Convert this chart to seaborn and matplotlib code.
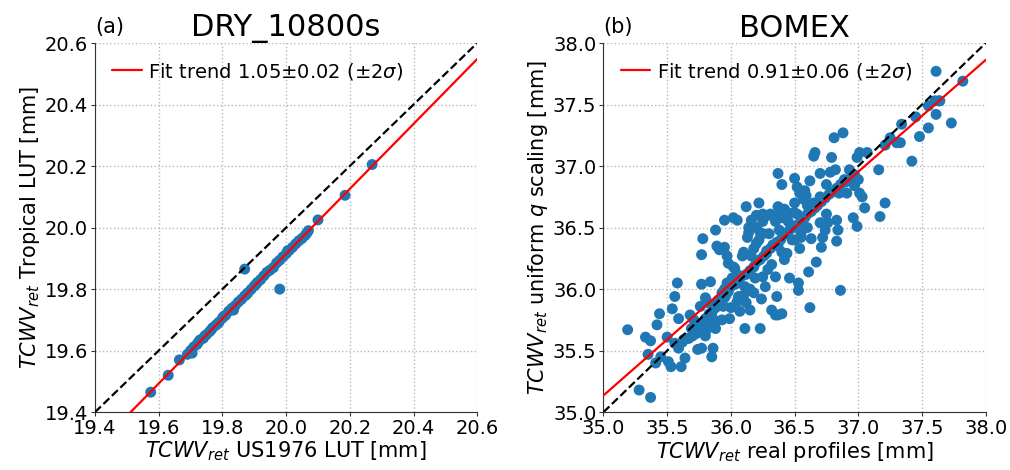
import numpy as np
import pandas as pd
import matplotlib
matplotlib.use('Agg')
import matplotlib.pyplot as plt
import seaborn as sns

# ---- panel (a): DRY_10800s, US1976 LUT vs Tropical LUT
dry_x = [19.575, 19.630, 19.665, 19.690, 19.700, 19.705, 19.710, 19.720, 19.725, 19.730,
         19.740, 19.745, 19.750, 19.760, 19.765, 19.770, 19.780, 19.785, 19.790, 19.800,
         19.805, 19.810, 19.820, 19.830, 19.835, 19.840, 19.850, 19.860, 19.870, 19.875,
         19.880, 19.890, 19.900, 19.905, 19.910, 19.920, 19.930, 19.940, 19.950, 19.960,
         19.970, 19.980, 19.990, 20.000, 20.005, 20.010, 20.020, 20.030, 20.040, 20.050,
         20.060, 20.065, 20.070, 20.100, 20.185, 20.270, 19.870, 19.980]
dry_y = [19.465, 19.520, 19.570, 19.588, 19.600, 19.592, 19.612, 19.620, 19.628, 19.635,
         19.640, 19.648, 19.652, 19.662, 19.668, 19.675, 19.683, 19.688, 19.693, 19.706,
         19.712, 19.715, 19.728, 19.738, 19.732, 19.746, 19.758, 19.767, 19.778, 19.782,
         19.788, 19.799, 19.810, 19.815, 19.822, 19.831, 19.843, 19.855, 19.862, 19.870,
         19.885, 19.894, 19.905, 19.915, 19.925, 19.926, 19.936, 19.947, 19.957, 19.965,
         19.975, 19.982, 19.990, 20.025, 20.105, 20.205, 19.865, 19.800]
dry_slope, dry_intercept = 1.055, -1.185

# ---- panel (b): BOMEX, real profiles vs uniform q scaling
bomex_x = [35.19, 35.28, 35.37, 35.33, 35.37, 35.35, 35.44, 35.42, 35.41, 35.45,
           35.50, 35.51, 35.53, 35.54, 35.56, 35.58, 35.59, 35.56, 35.59, 35.61,
           35.64, 35.63, 35.67, 35.69, 35.68, 35.71, 35.73, 35.74, 35.77, 35.76,
           35.77, 35.77, 35.78, 35.80, 35.79, 35.81, 35.84, 35.82, 35.85, 35.86,
           35.85, 35.88, 35.88, 35.88, 35.89, 35.91, 35.93, 35.90, 35.94, 35.95,
           35.95, 35.97, 35.98, 35.95, 35.99, 35.97, 36.01, 36.02, 36.03, 36.02,
           36.05, 36.06, 36.07, 36.09, 36.11, 36.12, 36.11, 36.12, 36.14, 36.14,
           36.15, 36.16, 36.16, 36.18, 36.19, 36.20, 36.22, 36.23, 36.23, 36.24,
           36.25, 36.27, 36.28, 36.29, 36.31, 36.32, 36.35, 36.36, 36.37, 36.37,
           36.37, 36.38, 36.38, 36.40, 36.40, 36.35, 36.37, 36.42, 36.44, 36.45,
           36.46, 36.48, 36.50, 36.52, 36.53, 36.53, 36.52, 36.54, 36.55, 36.54,
           36.57, 36.59, 36.61, 36.62, 36.63, 36.65, 36.66, 36.67, 36.70, 36.70,
           36.71, 36.72, 36.74, 36.75, 36.76, 36.78, 36.79, 36.81, 36.82, 36.83,
           36.83, 36.84, 36.85, 36.86, 36.88, 36.89, 36.91, 36.93, 36.96, 36.97,
           36.99, 36.99, 37.00, 37.01, 37.01, 37.03, 37.05, 37.07, 37.16, 37.17,
           37.21, 37.21, 37.25, 37.30, 37.33, 37.34, 37.42, 37.45, 37.48, 37.55,
           37.55, 37.61, 37.60, 37.63, 37.61, 37.64, 37.73, 37.82,
           35.62, 35.66, 35.70, 35.72, 35.75, 35.78, 35.80, 35.83, 35.86, 35.88,
           35.90, 35.93, 35.96, 35.98, 36.00, 36.03, 36.06, 36.08, 36.12, 36.15,
           36.18, 36.20, 36.23, 36.26, 36.28, 36.31, 36.33, 36.36, 36.39, 36.41,
           36.44, 36.46, 36.49, 36.52, 36.55, 36.58, 36.60, 36.63, 36.66, 36.68,
           36.71, 36.74, 36.77, 36.80, 36.83, 36.86, 36.90, 36.94, 36.97,
           36.10, 36.13, 36.20, 36.25, 36.30, 36.35, 36.40, 36.45, 36.30, 36.22,
           36.18, 36.05, 35.95, 36.40, 36.50, 36.55, 36.60, 36.65, 36.70, 36.75,
           36.60, 36.50, 36.32, 36.25, 36.15, 36.10, 36.05, 36.00, 35.93, 35.85,
           35.80, 36.25, 36.20, 36.42, 36.50, 36.58, 36.62]
bomex_y = [35.67, 35.18, 35.12, 35.61, 35.58, 35.47, 35.80, 35.71, 35.40, 35.45,
           35.61, 35.41, 35.37, 35.84, 35.94, 36.05, 35.76, 35.56, 35.52, 35.37,
           35.44, 35.59, 35.60, 35.68, 35.79, 35.75, 35.64, 35.51, 35.52, 35.86,
           36.04, 36.28, 36.41, 35.93, 35.68, 35.67, 36.06, 35.89, 35.78, 35.52,
           35.45, 35.68, 35.74, 36.48, 36.35, 36.32, 35.97, 35.91, 35.86, 35.93,
           36.56, 36.27, 36.21, 36.34, 35.76, 36.05, 36.09, 36.18, 36.17, 36.58,
           36.56, 35.94, 35.82, 36.27, 35.68, 36.67, 36.02, 35.89, 36.46, 36.50,
           35.83, 36.27, 36.56, 35.97, 36.09, 36.37, 36.70, 35.68, 36.46, 35.92,
           36.61, 36.02, 36.29, 36.16, 36.61, 35.83, 36.10, 35.94, 36.35, 36.67,
           36.94, 36.61, 36.48, 36.85, 35.80, 35.79, 35.79, 36.24, 36.29, 36.62,
           36.09, 36.40, 36.90, 36.83, 36.05, 35.99, 36.61, 36.33, 36.42, 36.78,
           36.73, 36.76, 36.14, 35.85, 36.41, 37.08, 37.11, 36.22, 36.94, 36.54,
           36.34, 36.42, 36.48, 36.61, 36.54, 36.95, 37.07, 37.23, 36.97, 36.56,
           36.39, 36.48, 36.78, 35.99, 37.27, 36.89, 36.78, 36.97, 36.58, 36.84,
           36.51, 37.07, 36.89, 37.11, 36.78, 36.75, 36.66, 37.11, 36.97, 36.59,
           36.70, 37.17, 37.23, 37.19, 37.19, 37.34, 37.04, 37.40, 37.24, 37.31,
           37.49, 37.42, 37.53, 37.53, 37.77, 37.53, 37.35, 37.69,
           35.57, 35.60, 35.62, 35.66, 35.70, 35.72, 35.76, 35.80, 35.83, 35.85,
           35.88, 35.90, 35.95, 35.98, 36.02, 36.04, 36.05, 36.10, 36.12, 36.15,
           36.18, 36.22, 36.24, 36.27, 36.31, 36.33, 36.36, 36.38, 36.40, 36.44,
           36.45, 36.48, 36.50, 36.52, 36.55, 36.58, 36.61, 36.63, 36.66, 36.68,
           36.71, 36.74, 36.77, 36.79, 36.82, 36.85, 36.87, 36.90, 36.93,
           36.30, 36.42, 36.50, 36.45, 36.60, 36.55, 36.58, 36.55, 36.45, 36.40,
           36.33, 36.12, 36.00, 36.30, 36.40, 36.45, 36.50, 36.70, 36.75, 36.85,
           36.68, 36.62, 36.20, 36.10, 36.00, 35.95, 35.90, 35.85, 35.75, 35.70,
           35.62, 36.55, 36.60, 36.65, 36.70, 36.80, 36.88]
bomex_slope, bomex_intercept = 0.909, 3.321

panels = [
    dict(x=dry_x, y=dry_y, slope=dry_slope, icpt=dry_intercept,
         lim=(19.4, 20.6), ticks=[19.4, 19.6, 19.8, 20.0, 20.2, 20.4, 20.6],
         title='DRY_10800s', tag='(a)',
         label='Fit trend 1.05$\\pm$0.02 ($\\pm2\\sigma$)',
         xlabel='$TCWV_{ret}$ US1976 LUT [mm]',
         ylabel='$TCWV_{ret}$ Tropical LUT [mm]'),
    dict(x=bomex_x, y=bomex_y, slope=bomex_slope, icpt=bomex_intercept,
         lim=(35.0, 38.0), ticks=[35.0, 35.5, 36.0, 36.5, 37.0, 37.5, 38.0],
         title='BOMEX', tag='(b)',
         label='Fit trend 0.91$\\pm$0.06 ($\\pm2\\sigma$)',
         xlabel='$TCWV_{ret}$ real profiles [mm]',
         ylabel='$TCWV_{ret}$ uniform $q$ scaling [mm]'),
]

sns.set_style('ticks', {'axes.grid': True, 'grid.linestyle': ':', 'grid.color': '#b0b0b0',
                        'axes.edgecolor': '#333333', 'text.color': 'black',
                        'axes.labelcolor': 'black', 'xtick.color': 'black',
                        'ytick.color': 'black'})
plt.rcParams['font.family'] = ['DejaVu Sans']

fig, axes = plt.subplots(1, 2, figsize=(10.1, 4.7), dpi=100)
fig.subplots_adjust(left=0.094, right=0.976, bottom=0.123, top=0.9085, wspace=0.33)

for ax, p in zip(axes, panels):
    lo, hi = p['lim']
    df = pd.DataFrame({'x': p['x'], 'y': p['y']})
    sns.scatterplot(data=df, x='x', y='y', ax=ax, color='#1f77b4', s=62,
                    edgecolor='none', zorder=3)
    ref = np.array([lo, hi])
    ax.plot(ref, ref, '--', color='black', lw=1.6, zorder=4)
    ax.plot(ref, p['slope'] * ref + p['icpt'], color='red', lw=1.6,
            label=p['label'], zorder=5)
    ax.set_xlim(lo, hi)
    ax.set_ylim(lo, hi)
    ax.set_xticks(p['ticks'])
    ax.set_yticks(p['ticks'])
    ax.set_xticklabels([f'{t:.1f}' for t in p['ticks']])
    ax.set_yticklabels([f'{t:.1f}' for t in p['ticks']])
    ax.tick_params(labelsize=14, length=3, color='#333333', pad=2)
    ax.grid(True, linestyle=':', color='#b8b8b8', lw=1.0)
    ax.set_xlabel(p['xlabel'], fontsize=15, labelpad=1)
    ax.set_ylabel(p['ylabel'], fontsize=15, labelpad=2)
    ax.set_title(p['title'], fontsize=22, pad=4)
    ax.text(0.0, 1.015, p['tag'], transform=ax.transAxes, fontsize=15,
            ha='left', va='bottom')
    ax.legend(loc='upper left', frameon=False, fontsize=14, handlelength=1.5,
              handletextpad=0.35, borderaxespad=0.5)
    sns.despine(ax=ax)

fig.savefig('out.png', dpi=100)
